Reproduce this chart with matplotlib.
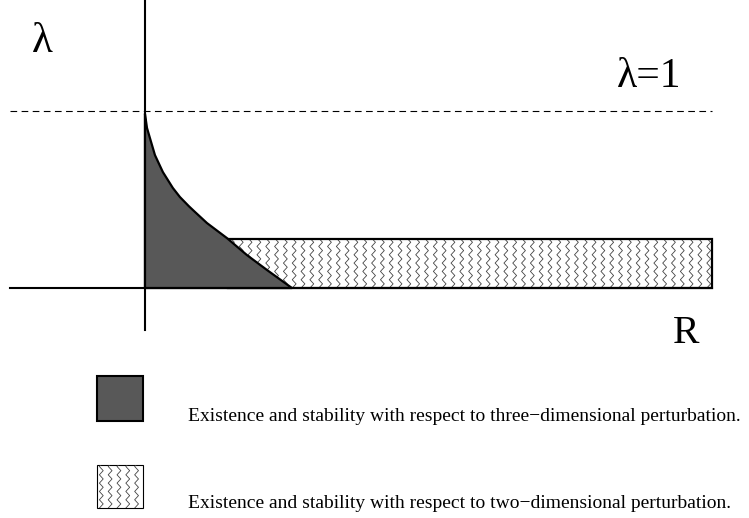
import numpy as np
import matplotlib.pyplot as plt
from matplotlib.patches import Polygon, Rectangle

plt.rcParams['font.family'] = ['Liberation Serif', 'DejaVu Serif']

# boundary of the three-dimensional stability region (R, lambda)
curve_R = [0.0, 0.014, 0.034, 0.068, 0.122, 0.190, 0.238, 0.299, 0.340,
           0.422, 0.558, 0.694, 0.830, 0.930, 1.0]
curve_lam = [0.985, 0.904, 0.847, 0.751, 0.655, 0.565, 0.514, 0.462, 0.430,
             0.367, 0.282, 0.186, 0.102, 0.042, 0.0]

# two-dimensional stability strip
strip_R = [0.565, 3.857]
strip_lam = [0.0, 0.277]

lam_one = 1.0
legend_texts = [
    'Existence and stability with respect to three\u2212dimensional perturbation.',
    'Existence and stability with respect to two\u2212dimensional perturbation.',
]

DARK = '#585858'


def zigzag(ax, x0, x1, y0, y1, clip, dx=0.06, dy=0.047, amp=0.013):
    """vertical zigzag hatch clipped to a patch"""
    ys = np.arange(y0 - dy, y1 + dy, dy / 2)
    for xc in np.arange(x0 + dx / 2, x1 + dx, dx):
        xs = xc + amp * np.where(np.arange(len(ys)) % 2 == 0, -1, 1)
        ln, = ax.plot(xs, ys, color='#444444', lw=0.6, zorder=2)
        ln.set_clip_path(clip)


fig = plt.figure(figsize=(7.49, 5.18), dpi=100)
ax = fig.add_axes([0, 0, 1, 1])
ax.set_xlim(-0.986, 4.109)
ax.set_ylim(-1.299, 1.627)
ax.axis('off')

# strip with hatch
rect = Rectangle((strip_R[0], strip_lam[0]), strip_R[1] - strip_R[0],
                 strip_lam[1] - strip_lam[0], facecolor='white',
                 edgecolor='none', zorder=1)
ax.add_patch(rect)
zigzag(ax, strip_R[0], strip_R[1], strip_lam[0], strip_lam[1], rect)
edge = Rectangle((strip_R[0], strip_lam[0]), strip_R[1] - strip_R[0],
                 strip_lam[1] - strip_lam[0], facecolor='none',
                 edgecolor='black', lw=1.6, zorder=3)
ax.add_patch(edge)

# dark region
pts = list(zip(curve_R, curve_lam)) + [(0.0, 0.0)]
ax.add_patch(Polygon(pts, closed=True, facecolor=DARK, edgecolor='black',
                     lw=1.6, joinstyle='round', zorder=4))

# axes
ax.plot([-0.918, 3.857], [0, 0], color='black', lw=1.5, zorder=5)
ax.plot([0, 0], [-0.237, 1.627], color='black', lw=1.5, zorder=5)
ax.plot([-0.918, 3.857], [lam_one, lam_one], color='black', lw=0.8,
        dashes=(6, 4), zorder=5)

ax.text(-0.7, 1.39, '\u03bb', fontsize=31, ha='center', va='center')
ax.text(3.43, 1.195, '\u03bb=1', fontsize=30, ha='center', va='center')
ax.text(3.68, -0.255, 'R', fontsize=28.5, ha='center', va='center')

# legend
box1 = Rectangle((-0.327, -0.751), 0.313, 0.254, facecolor=DARK,
                 edgecolor='black', lw=1.5)
ax.add_patch(box1)
box2 = Rectangle((-0.327, -1.243), 0.313, 0.243, facecolor='white',
                 edgecolor='black', lw=0.8)
ax.add_patch(box2)
zigzag(ax, -0.327, -0.014, -1.243, -1.0, box2)
ax.text(0.29, -0.725, legend_texts[0], fontsize=14.0, va='center')
ax.text(0.29, -1.215, legend_texts[1], fontsize=14.0, va='center')

plt.savefig('out.png', dpi=100)
